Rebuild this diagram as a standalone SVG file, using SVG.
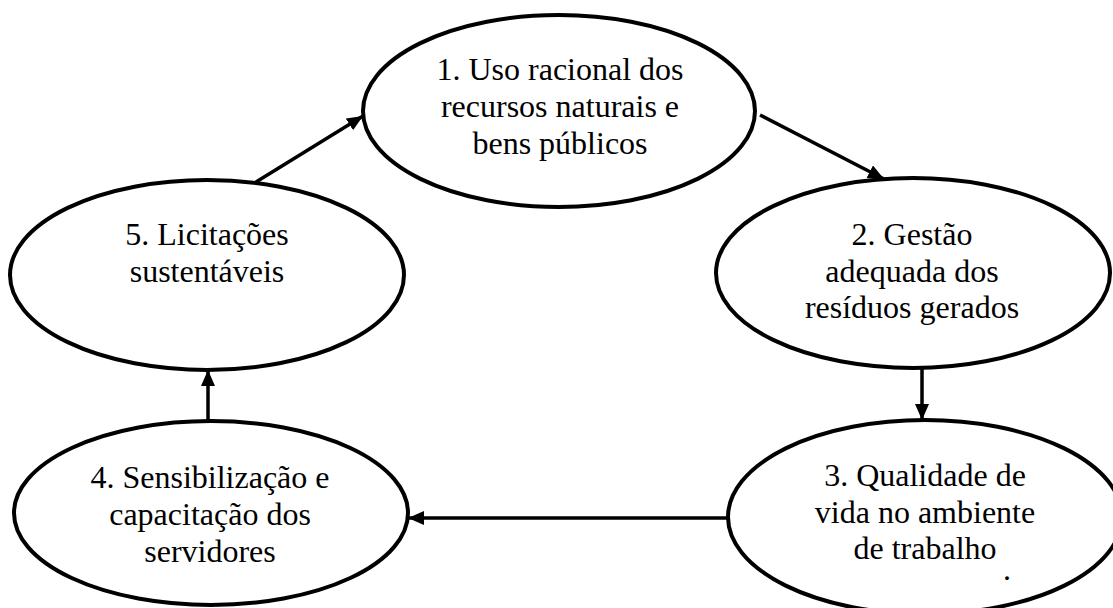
<svg xmlns="http://www.w3.org/2000/svg" width="1113" height="608" viewBox="0 0 1113 608">
<style>
.node ellipse{fill:#fff;stroke:#000;stroke-width:4}
.node text{font-family:"Liberation Serif","Times New Roman",serif;font-size:32px;fill:#000;text-anchor:middle}
.edges line{stroke:#000;stroke-width:3.5;marker-end:url(#arr)}
</style>
<defs>
<marker id="arr" markerUnits="userSpaceOnUse" markerWidth="18" markerHeight="16" refX="16" refY="7" orient="auto">
<path d="M0,0 L16,7 L0,14 Z" fill="#000"/>
</marker>
</defs>
<rect width="1113" height="608" fill="#fff"/>
<g class="edges">
<line x1="256" y1="182" x2="363" y2="116"/>
<line x1="760" y1="115" x2="884" y2="179"/>
<line x1="922" y1="368" x2="922" y2="420"/>
<line x1="728" y1="518" x2="408" y2="518"/>
<line x1="208" y1="421" x2="208" y2="370"/>
</g>
<g id="n1" class="node">
<ellipse cx="559" cy="111" rx="196" ry="96"/>
<text x="560" y="80">1. Uso racional dos</text>
<text x="560" y="117">recursos naturais e</text>
<text x="560" y="154">bens públicos</text>
</g>
<g id="n2" class="node">
<ellipse cx="913" cy="273" rx="197" ry="95"/>
<text x="912" y="245">2. Gestão</text>
<text x="912" y="282">adequada dos</text>
<text x="912" y="318">resíduos gerados</text>
</g>
<g id="n3" class="node">
<ellipse cx="925" cy="517" rx="197" ry="97"/>
<text x="925" y="486">3. Qualidade de</text>
<text x="925" y="523">vida no ambiente</text>
<text x="925" y="559">de trabalho</text>
<text x="1007" y="580">.</text>
</g>
<g id="n4" class="node">
<ellipse cx="211" cy="513" rx="197" ry="92"/>
<text x="210" y="488">4. Sensibilização e</text>
<text x="210" y="525">capacitação dos</text>
<text x="210" y="562">servidores</text>
</g>
<g id="n5" class="node">
<ellipse cx="207" cy="275" rx="197" ry="95"/>
<text x="207" y="245">5. Licitações</text>
<text x="207" y="282">sustentáveis</text>
</g>
</svg>
